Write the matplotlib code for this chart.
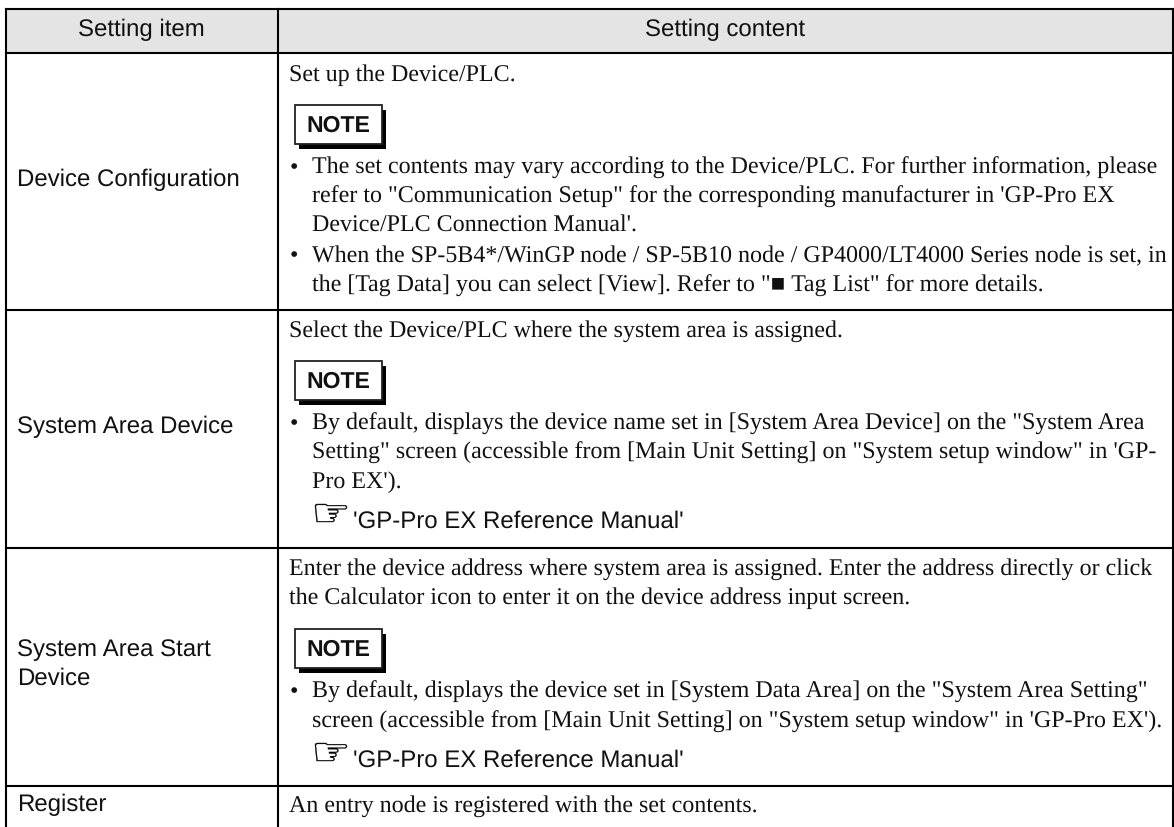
import matplotlib
matplotlib.use("Agg")
import matplotlib.pyplot as plt
from matplotlib.patches import PathPatch, Rectangle
from matplotlib.textpath import TextPath
from matplotlib.font_manager import FontProperties
from matplotlib.transforms import Affine2D

plt.rcParams["text.hinting"] = "no_hinting"
plt.rcParams["text.hinting_factor"] = 1

W, H = 1174, 827
SERIF = "Liberation Serif"
SANS = "Liberation Sans"
BODY_SIZE = 17.1
HEAD_SIZE = 16.95
NOTE_SIZE = 16.6

headers = [(141, 36, "Setting item"), (725, 36, "Setting content")]
row_labels = [
    (186, "Device Configuration"),
    (433, "System Area Device"),
    (656, "System Area Start"),
    (685, "Device"),
    (811, "Register"),
]
plain_lines = [
    (81, "Set up the Device/PLC."),
    (337, "Select the Device/PLC where the system area is assigned."),
    (575, "Enter the device address where system area is assigned. Enter the address directly or click"),
    (604, "the Calculator icon to enter it on the device address input screen."),
    (812, "An entry node is registered with the set contents."),
]
indented_lines = [
    (174, "The set contents may vary according to the Device/PLC. For further information, please"),
    (203, "refer to \"Communication Setup\" for the corresponding manufacturer in 'GP-Pro EX"),
    (232, "Device/PLC Connection Manual'."),
    (262, "When the SP-5B4*/WinGP node / SP-5B10 node / GP4000/LT4000 Series node is set, in"),
    (292, "the [Tag Data] you can select [View]. Refer to \"\u25a0 Tag List\" for more details."),
    (430, "By default, displays the device name set in [System Area Device] on the \"System Area"),
    (459, "Setting\" screen (accessible from [Main Unit Setting] on \"System setup window\" in 'GP-"),
    (488, "Pro EX')."),
    (698, "By default, displays the device set in [System Data Area] on the \"System Area Setting\""),
    (728, "screen (accessible from [Main Unit Setting] on \"System setup window\" in 'GP-Pro EX')."),
]
bullet_rows = [174, 262, 430, 698]
note_tops = [104, 360, 628]
ref_rows = [528, 767]
ref_text = "'GP-Pro EX Reference Manual'"
v_lines = [6, 278, 1173]
h_lines = [9, 53, 310, 547.5, 786]

fig = plt.figure(figsize=(W / 100, H / 100), dpi=100)
ax = fig.add_axes([0, 0, 1, 1])
ax.set_xlim(0, W)
ax.set_ylim(H, 0)
ax.axis("off")

ax.add_patch(Rectangle((v_lines[0], h_lines[0]), v_lines[2] - v_lines[0],
                       h_lines[1] - h_lines[0], color="#e4e4e4", lw=0))
for y in h_lines:
    ax.plot([v_lines[0], v_lines[2]], [y, y], color="black", lw=1.5, solid_capstyle="projecting")
for x in v_lines:
    ax.plot([x, x], [h_lines[0], H], color="black", lw=1.5, solid_capstyle="projecting")

for x, y, s in headers:
    ax.text(x, y, s, family=SANS, size=HEAD_SIZE, ha="center", va="baseline", color="#111111")
for y, s in row_labels:
    ax.text(17, y, s, family=SANS, size=HEAD_SIZE, ha="left", va="baseline", color="#111111")
for y, s in plain_lines:
    ax.text(289, y, s, family=SERIF, size=BODY_SIZE, ha="left", va="baseline", color="#111111")
for y, s in indented_lines:
    ax.text(312.5, y, s, family=SERIF, size=BODY_SIZE, ha="left", va="baseline", color="#111111")
for y in bullet_rows:
    ax.text(290, y, "\u2022", family=SERIF, size=BODY_SIZE, ha="left", va="baseline", color="#111111")

for top in note_tops:
    ax.add_patch(Rectangle((299, top + 6), 87, 39, color="black", lw=0, zorder=3))
    ax.add_patch(Rectangle((294.5, top + 0.5), 87, 39, facecolor="white", edgecolor="#222222", lw=1.3, zorder=4))
    ax.text(338, top + 27.5, "NOTE", family=SANS, weight="bold", size=NOTE_SIZE,
            ha="center", va="baseline", color="#111111", zorder=5)

hand = TextPath((0, 0), "\u261e", size=10, prop=FontProperties(family="DejaVu Sans"))
bb = hand.get_extents()
for y in ref_rows:
    tr = (Affine2D().translate(-bb.x0, -bb.y0)
          .scale(32 / bb.width, -18 / bb.height)
          .translate(315, y - 6))
    ax.add_patch(PathPatch(hand.transformed(tr), facecolor="black", edgecolor="black", lw=0.3))
    ax.text(353, y, ref_text, family=SANS, size=HEAD_SIZE, ha="left", va="baseline", color="#111111")

fig.savefig("out.png", dpi=100)
